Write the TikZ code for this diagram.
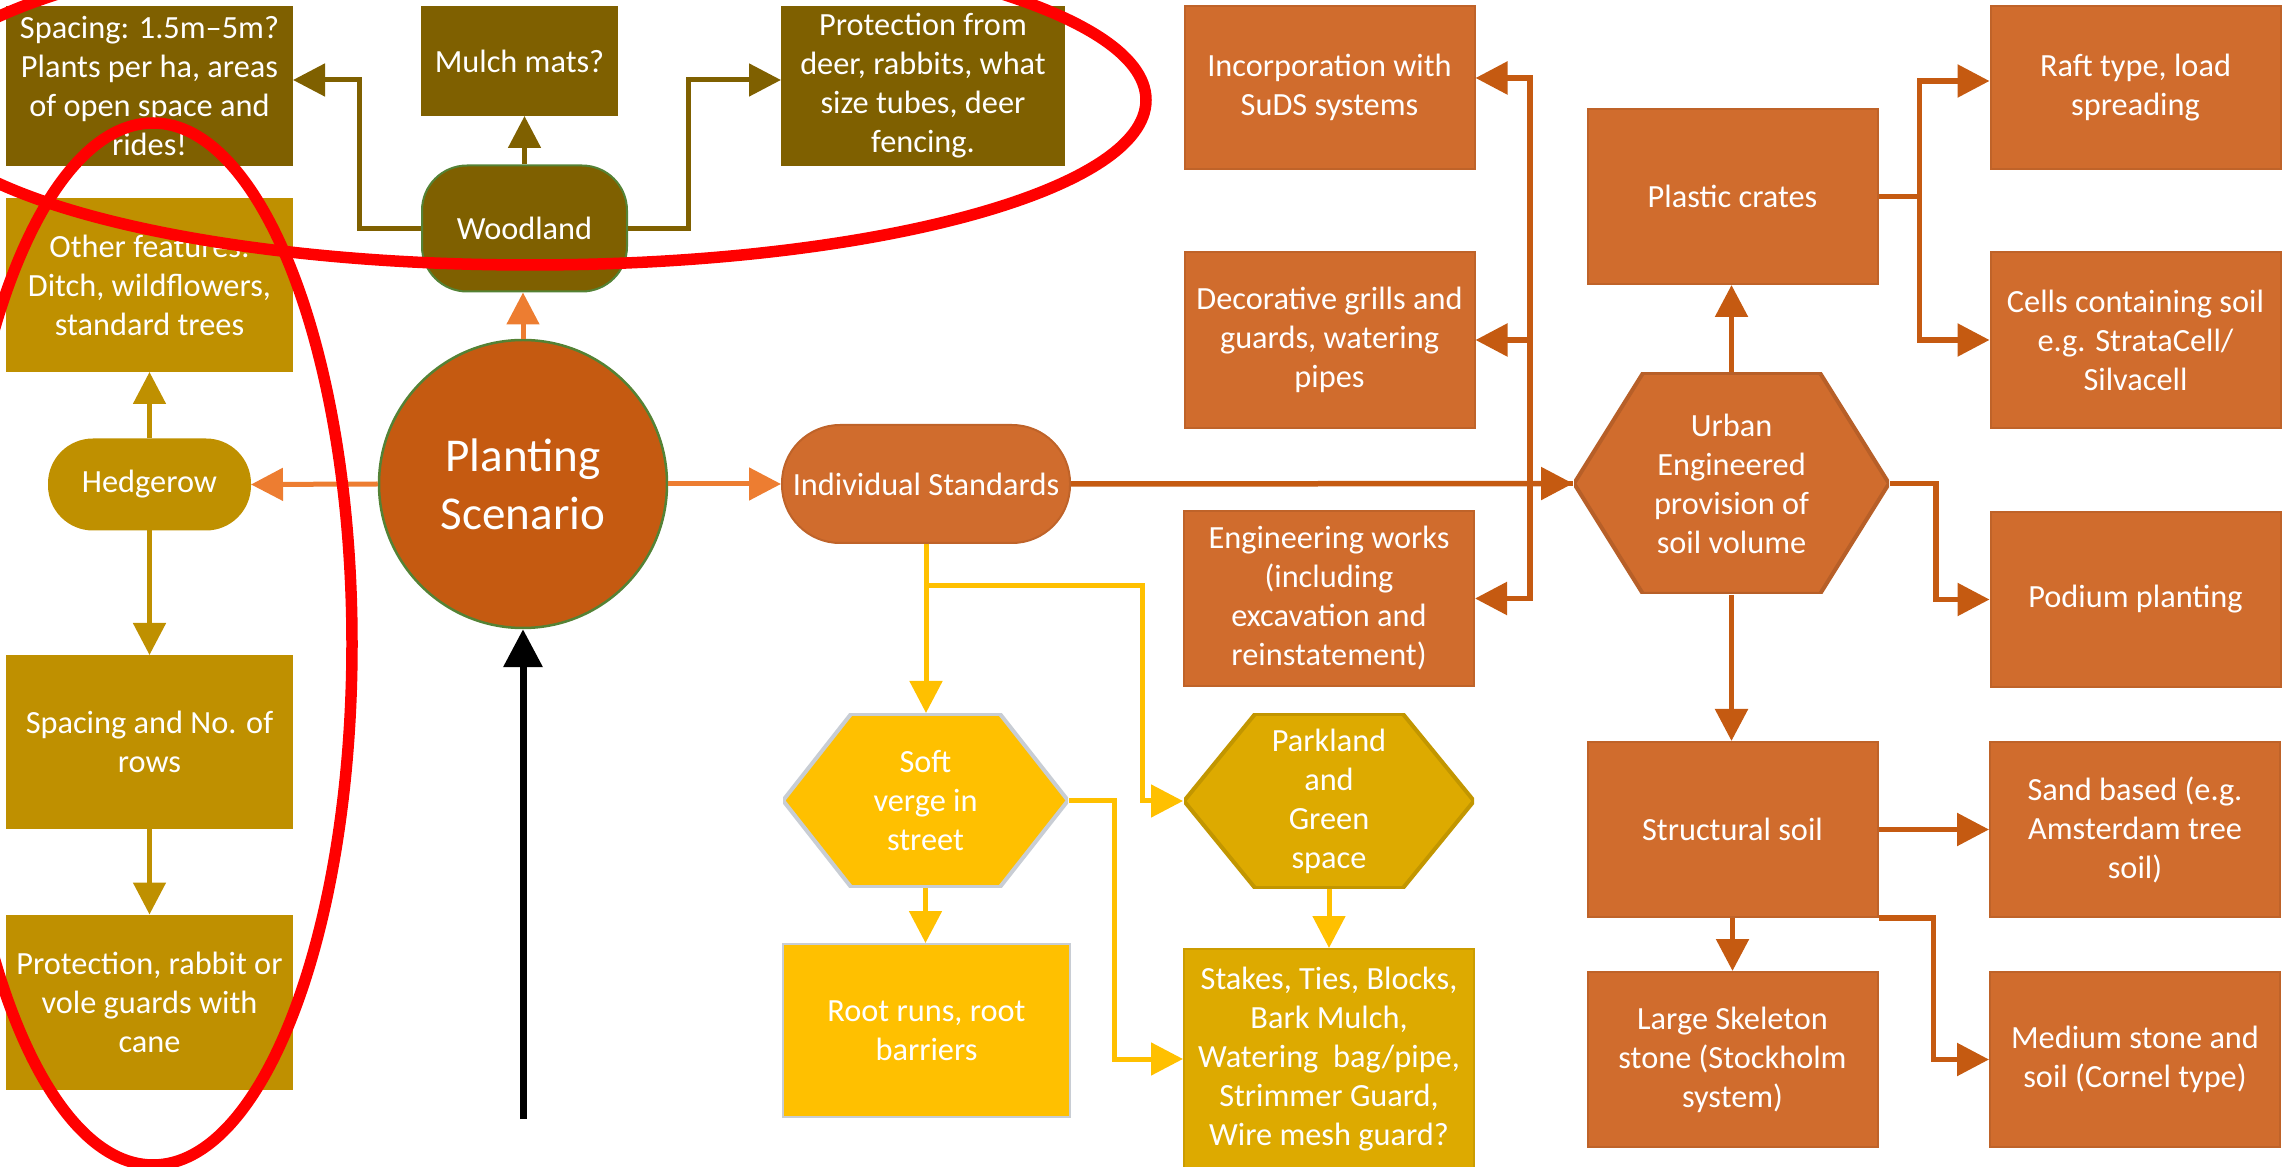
\documentclass[tikz,border=0pt]{standalone}
\usepackage{fontspec}
\setmainfont{Carlito}
\usetikzlibrary{arrows.meta, positioning, backgrounds, calc}
\definecolor{woodc}{RGB}{127,96,0}
\definecolor{hedgec}{RGB}{191,144,0}
\definecolor{plantc}{RGB}{197,90,17}
\definecolor{standc}{RGB}{208,108,45}
\definecolor{linkc}{RGB}{197,90,17}
\definecolor{lightc}{RGB}{237,125,49}
\definecolor{softc}{RGB}{255,192,0}
\definecolor{parkc}{RGB}{221,170,0}
\definecolor{rimc}{RGB}{84,130,53}
\definecolor{edgec}{RGB}{200,205,212}
\definecolor{ringc}{RGB}{255,0,0}
\tikzset{
  box/.style={
    rectangle, draw, line width=0.2mm, align=center, inner sep=1pt,
    font=\fontsize{9.2}{11.1}\selectfont, text=white,
    minimum width=2.9cm, minimum height=1.75cm
  },
  woodbox/.style={box, fill=woodc, draw=woodc},
  hedgebox/.style={box, fill=hedgec, draw=hedgec},
  stdbox/.style={box, fill=standc, draw=standc!92!black},
  softbox/.style={box, fill=softc, draw=softc},
  parkbox/.style={box, fill=parkc, draw=parkc!92!black},
  % flat-topped hexagon filling the node's rectangle: fill, edge, slant inset
  hexa/.style n args={3}{
    box, draw=none, path picture={
      \fill[#1, draw=#2, line width=0.4mm]
        (path picture bounding box.west)
        -- ([xshift=#3]path picture bounding box.north west)
        -- ([xshift=-#3]path picture bounding box.north east)
        -- (path picture bounding box.east)
        -- ([xshift=-#3]path picture bounding box.south east)
        -- ([xshift=#3]path picture bounding box.south west) -- cycle;
    }
  },
  arr/.style={-{Triangle[length=3.2mm, width=3.2mm]}, line width=0.5mm},
  lightarr/.style={arr, draw=lightc},
  woodarr/.style={arr, draw=woodc},
  hedgearr/.style={arr, draw=hedgec},
  linkarr/.style={arr, draw=linkc, line width=0.55mm},
  softarr/.style={arr, draw=softc},
  blackarr/.style={-{Triangle[length=3.8mm, width=3.8mm]}, line width=0.7mm, draw=black},
  ringline/.style={draw=ringc, line width=1.15mm},
}

\begin{document}
\begin{tikzpicture}[x=1cm, y=-1cm]
  \useasboundingbox (0,0) rectangle (22.92,11.67);

  \node[woodbox, minimum width=2.85cm, minimum height=1.58cm] (spacing) at (1.495,0.86)
    {Spacing: 1.5m–5m?\\Plants per ha, areas\\of open space and\\rides!};
  \node[woodbox, minimum width=1.95cm, minimum height=1.08cm] (mulch) at (5.195,0.61) {Mulch mats?};
  \node[woodbox, minimum width=2.82cm, minimum height=1.58cm] (deer) at (9.23,0.86)
    {Protection from\\deer, rabbits, what\\size tubes, deer\\fencing.};
  \node[woodbox, draw=rimc, rounded corners=4.5mm, minimum width=2.05cm, minimum height=1.26cm]
    (woodland) at (5.245,2.285) {Woodland};

  \node[hedgebox, minimum width=2.85cm, minimum height=1.72cm] (features) at (1.495,2.85)
    {Other features:\\Ditch, wildflowers,\\standard trees};
  \node[hedgebox, rounded corners=4.4mm, minimum width=2.01cm, minimum height=0.9cm]
    (hedgerow) at (1.495,4.845) {Hedgerow};
  \node[hedgebox, minimum width=2.85cm, minimum height=1.72cm] (rows) at (1.495,7.42)
    {Spacing and No. of\\rows};
  \node[hedgebox, minimum width=2.85cm, minimum height=1.73cm] (guards) at (1.495,10.02)
    {Protection, rabbit or\\vole guards with\\cane};

  \node[circle, fill=plantc, draw=rimc, line width=0.25mm, minimum size=2.88cm, text=white,
        align=center, font=\fontsize{13.4}{16.5}\selectfont] (planting) at (5.23,4.84)
    {Planting\\Scenario};
  \node[stdbox, rounded corners=5.8mm, minimum width=2.88cm, minimum height=1.18cm]
    (standards) at (9.26,4.84) {Individual Standards};

  \node[hexa={softc}{edgec}{6.8mm}, minimum width=2.85cm, minimum height=1.73cm] (verge) at (9.255,8.005)
    {Soft\\verge in\\street};
  \node[softbox, draw=edgec, minimum width=2.87cm, minimum height=1.73cm] (roots) at (9.265,10.305)
    {Root runs, root\\barriers};
  \node[hexa={parkc}{parkc!88!black}{7.1mm}, minimum width=2.9cm, minimum height=1.74cm] (parkland) at (13.29,8.01)
    {Parkland\\and\\Green\\space};
  \node[parkbox, minimum height=2.2cm] (stakes) at (13.29,10.59)
    {Stakes, Ties, Blocks,\\Bark Mulch,\\Watering~ bag/pipe,\\Strimmer Guard,\\Wire mesh guard?};

  \node[stdbox, minimum height=1.63cm] (suds) at (13.295,0.875) {Incorporation with\\SuDS systems};
  \node[stdbox, minimum height=1.76cm] (grills) at (13.295,3.40)
    {Decorative grills and\\guards, watering\\pipes};
  \node[stdbox] (works) at (13.29,5.985)
    {Engineering works\\(including\\excavation and\\reinstatement)};
  \node[hexa={standc}{standc!88!black}{6.9mm}, minimum width=3.15cm, minimum height=2.21cm] (urban) at (17.315,4.835)
    {Urban\\Engineered\\provision of\\soil volume};
  \node[stdbox] (crates) at (17.325,1.965) {Plastic crates};
  \node[stdbox, minimum height=1.63cm] (raft) at (21.355,0.875) {Raft type, load\\spreading};
  \node[stdbox, minimum height=1.76cm] (cells) at (21.355,3.40)
    {Cells containing soil\\e.g. StrataCell/\\Silvacell};
  \node[stdbox] (podium) at (21.355,5.995) {Podium planting};
  \node[stdbox] (structural) at (17.325,8.295) {Structural soil};
  \node[stdbox] (sand) at (21.35,8.295) {Sand based (e.g.\\Amsterdam tree\\soil)};
  \node[stdbox] (skeleton) at (17.325,10.595) {Large Skeleton\\stone (Stockholm\\system)};
  \node[stdbox] (medium) at (21.35,10.595) {Medium stone and\\soil (Cornel type)};

  \draw[lightarr] (planting.north) -- (planting.north |- woodland.south);
  \draw[lightarr] (planting.west) -- (hedgerow.east);
  \draw[lightarr] (planting.east) -- (standards.west);
  \coordinate (tail) at (5.23,11.19);
  \draw[blackarr] (tail) -- (planting.south);

  \draw[woodarr] (woodland.north) -- (woodland.north |- mulch.south);
  \draw[woodarr] (woodland.west) -- ++(-0.62,0) |- ([yshift=0.6mm]spacing.east);
  \draw[woodarr] (woodland.east) -- ++(0.6,0) |- ([yshift=0.6mm]deer.west);

  \draw[hedgearr] (hedgerow.north) -- (features.south);
  \draw[hedgearr] (hedgerow.south) -- (rows.north);
  \draw[hedgearr] (rows.south) -- (guards.north);

  \draw[linkarr] (standards.east) -- (urban.west);
  \draw[linkarr] (urban.west) -- ++(-0.43,0) |- ([yshift=0.95mm]suds.east);
  \draw[linkarr] (urban.west) -- ++(-0.43,0) |- (grills.east);
  \draw[linkarr] (urban.west) -- ++(-0.43,0) |- (works.east);
  \draw[linkarr] (urban.north) -- (urban.north |- crates.south);
  \draw[linkarr] (crates.east) -- ++(0.41,0) |- ([yshift=0.65mm]raft.west);
  \draw[linkarr] (crates.east) -- ++(0.41,0) |- (cells.west);
  \draw[linkarr] (urban.east) -- ++(0.46,0) |- (podium.west);
  \draw[linkarr] (urban.south) -- (urban.south |- structural.north);
  \draw[linkarr] (structural.east) -- (sand.west);
  \draw[linkarr] (structural.south east) -- ++(0.55,0) |- (medium.west);
  \draw[linkarr] (structural.south) -- (skeleton.north);

  \draw[softarr] (standards.south) -- (standards.south |- verge.north);
  \draw[softarr] ([yshift=-4.2mm]standards.south) -| ([xshift=-4.1mm]parkland.west) -- (parkland.west);
  \draw[softarr] (verge.east) -- ++(0.45,0) |- (stakes.west);
  \draw[softarr] (verge.south) -- (verge.south |- roots.north);
  \draw[softarr] (parkland.south) -- (stakes.north);

  \draw[ringline] (5.30,1.00) ellipse [x radius=6.16, y radius=1.65];
  \draw[ringline] (1.53,6.44) ellipse [x radius=1.99, y radius=5.21];
\end{tikzpicture}
\end{document}
